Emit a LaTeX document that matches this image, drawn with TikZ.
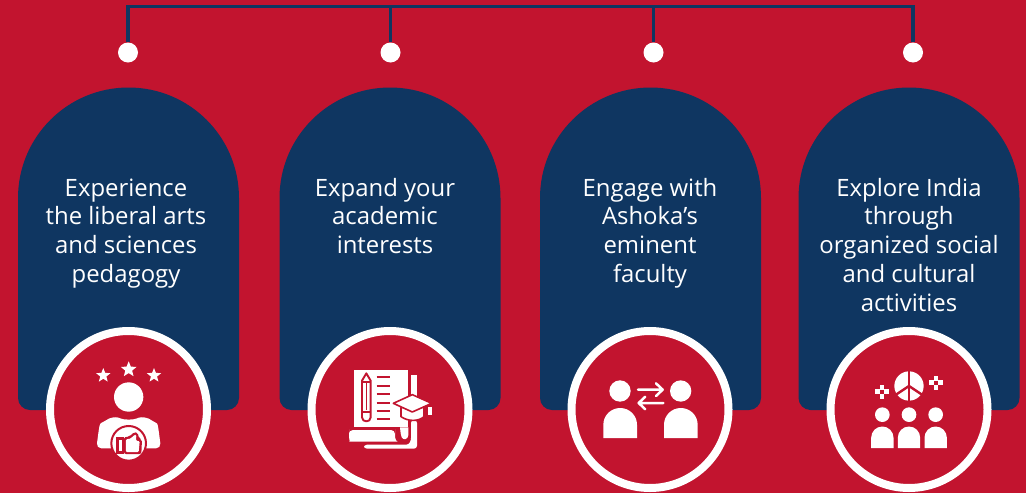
\documentclass[tikz,border=0pt]{standalone}
\usepackage{fontspec}
\setmainfont{Open Sans}
\usetikzlibrary{shapes.geometric}
\definecolor{bgred}{HTML}{C2142F}
\definecolor{navy}{HTML}{0F3661}
\newcommand{\firststrut}{\rule{0pt}{20pt}}
\tikzset{
  x=1pt,y=-1pt,
  bus/.style={navy,line width=3.2pt},
  dotnode/.style={circle,fill=white,minimum size=20pt,inner sep=0pt},
  ringnode/.style={circle,fill=bgred,draw=white,line width=8pt,minimum size=157pt,inner sep=0pt},
  cardtext/.style={text=white,align=center,inner sep=0pt,anchor=north,font=\fontsize{23.9}{28.7}\selectfont},
  redline/.style={draw=bgred,line width=1.9pt},
  star5/.style={star,star points=5,star point ratio=2.3,fill=white,inner sep=0pt,minimum size=#1},
  zoomed/.style={xscale=1/3,yscale=1/3}
}
\newcommand{\archcard}[2]{%
  \fill[navy] (#1,198) arc[start angle=180,end angle=0,x radius=110.5pt,y radius=110.5pt]
    -- (#2,398) arc[start angle=0,end angle=-90,x radius=12pt,y radius=12pt]
    -- ({#1+12},410) arc[start angle=-90,end angle=-180,x radius=12pt,y radius=12pt] -- cycle;}
\begin{document}
\begin{tikzpicture}
\useasboundingbox (0,0) rectangle (1026,493);
\fill[bgred] (0,0) rectangle (1026,493);

% cards
\archcard{18}{239}
\archcard{279.5}{500.5}
\archcard{540}{761}
\archcard{798.5}{1019.5}

% connectors
\node[dotnode] (d1) at (128,52.5) {};
\node[dotnode] (d2) at (390.5,52.5) {};
\node[dotnode] (d3) at (653.5,52.5) {};
\node[dotnode] (d4) at (913,52.5) {};
\coordinate (b1) at (128,6.5);
\coordinate (b2) at (390.5,6.5);
\coordinate (b3) at (653.5,6.5);
\coordinate (b4) at (913,6.5);
\draw[bus,line join=miter] (d1) -- (b1) -- (b4) -- (d4);
\draw[bus] (b2) -- (d2);
\draw[bus] (b3) -- (d3);

% texts
\node[cardtext] (t1) at (126,176) {\firststrut Experience\\the liberal arts\\and sciences\\pedagogy};
\node[cardtext] (t2) at (385,176) {\firststrut Expand your\\academic\\interests};
\node[cardtext] (t3) at (650,176) {\firststrut Engage with\\Ashoka’s\\eminent\\faculty};
\node[cardtext] (t4) at (909,176) {\firststrut Explore India\\through\\organized social\\and cultural\\activities};

% rings
\node[ringnode] (r1) at (128.5,409.5) {};
\node[ringnode] (r2) at (390,409.5) {};
\node[ringnode] (r3) at (650,409.5) {};
\node[ringnode] (r4) at (909,409.5) {};

% icon 1
\node[star5=15pt] (s1) at (103.3,375.5) {};
\node[star5=16.5pt] (s2) at (128.7,369.5) {};
\node[star5=15pt] (s3) at (154,375.5) {};
\begin{scope}[shift={(40,320)},zoomed]
  \fill[white] (266,231) circle[radius=44];
  \fill[white,rounded corners=5pt] (169,385) .. controls (175,340) and (178,312) .. (195,303)
     .. controls (205,297) and (218,292) .. (228,288)
     .. controls (250,300) and (282,300) .. (304,288)
     .. controls (314,292) and (328,297) .. (338,303)
     .. controls (354,312) and (357,340) .. (363,385) -- cycle;
  \fill[white,draw=bgred,line width=2pt] (266,370) circle[radius=52];
  \fill[bgred] (228,352) rectangle (252,402);
  \fill[white] (237,361) rectangle (247,394);
  \fill[bgred,rounded corners=2pt] (250,352) -- (268,350) -- (282,336) -- (294,338) -- (296,355) -- (306,358) -- (304,402) -- (252,402) -- cycle;
  \fill[white,rounded corners=1pt] (258,358) -- (271,356) -- (285,344) -- (289,345) -- (288,362) -- (299,364) -- (296,396) -- (258,396) -- cycle;
\end{scope}

% icon 2
\begin{scope}[shift={(300,320)},zoomed]
  \fill[white] (162,150) rectangle (325,322);
  \fill[white] (333,165) rectangle (351,228);
  \fill[white,rounded corners=4pt] (147,330) -- (285,330) -- (285,340) .. controls (285,355) and (290,362) .. (300,365) -- (160,365) .. controls (150,365) and (147,350) .. (147,340) -- cycle;
  \fill[white,rounded corners=3pt] (192,374) -- (310,374) .. controls (330,374) and (333,360) .. (333,345) -- (333,300) -- (351,300) -- (351,386) -- (192,386) -- cycle;
  \fill[white] (300,322) -- (325,322) -- (325,345) .. controls (325,358) and (310,362) .. (305,352) -- (302,340) -- cycle;
  % pencil
  \draw[redline,fill=white,line join=round] (186,182) -- (199,160) -- (212,182) -- (212,292) .. controls (212,308) and (186,308) .. (186,292) -- cycle;
  \draw[redline] (186,185) -- (212,185);
  \draw[redline] (186,275) -- (212,275);
  \draw[bgred,line width=1.4pt] (199,190) -- (199,270);
  % lines
  \foreach \yy in {172,197,222,248,272,297}{\draw[redline] (230,\yy) -- (270,\yy);}
  % cap
  \fill[white,draw=bgred,line width=1.6pt,line join=round] (303,262) -- (303,290) .. controls (325,305) and (355,305) .. (372,290) -- (372,262) -- cycle;
  \fill[white,draw=bgred,line width=1.6pt,line join=round] (280,250) -- (337,224) -- (395,250) -- (337,276) -- cycle;
  \fill[white] (385,262) rectangle (395,286);
\end{scope}

% icon 3
\begin{scope}[shift={(560,320)},zoomed]
  \fill[white] (180,213) circle[radius=32];
  \fill[white] (362,213) circle[radius=32];
  \fill[white] (130,354) -- (130,314) arc[start angle=180,end angle=0,x radius=50.5,y radius=-50] -- (231,354) -- cycle;
  \fill[white] (312,354) -- (312,314) arc[start angle=180,end angle=0,x radius=50.5,y radius=-50] -- (413,354) -- cycle;
  \draw[white,line width=2.5pt,line cap=round,line join=round] (234,209) -- (308,209) (288,190) -- (308,209) -- (288,228);
  \draw[white,line width=2.5pt,line cap=round,line join=round] (310,249) -- (236,249) (256,230) -- (236,249) -- (256,268);
\end{scope}

% icon 4
\begin{scope}[shift={(820,320)},zoomed]
  \fill[white] (267,198) circle[radius=44];
  \draw[bgred,line width=2.4pt] (267,150) -- (267,245);
  \draw[bgred,line width=2.4pt] (267,198) -- (225,226);
  \draw[bgred,line width=2.4pt] (267,198) -- (309,226);
  \foreach \cx/\cy in {186/215,348/188}{
    \fill[white] (\cx-7,\cy-21) rectangle (\cx+7,\cy+21);
    \fill[white] (\cx-21,\cy-7) rectangle (\cx+21,\cy+7);
    \fill[bgred] (\cx-6,\cy-6) rectangle (\cx+6,\cy+6);
  }
  \foreach \cx in {187,267,347}{
    \fill[white] (\cx,284) circle[radius=22];
    \fill[white] (\cx-33.5,384) -- (\cx-33.5,353) arc[start angle=180,end angle=0,x radius=33.5,y radius=-33.5] -- (\cx+33.5,384) -- cycle;
  }
\end{scope}
\end{tikzpicture}
\end{document}
